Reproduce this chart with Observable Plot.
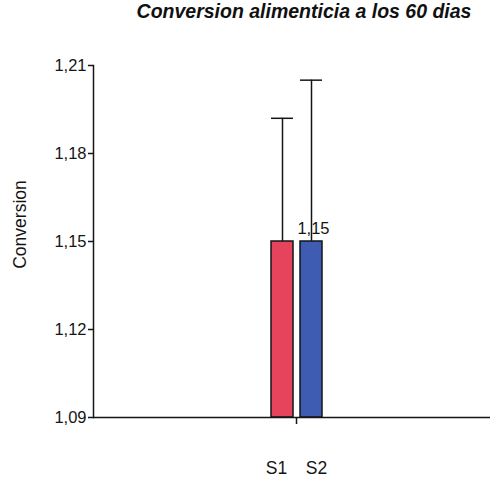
<!DOCTYPE html>
<html>
<head>
<meta charset="utf-8">
<script src="https://cdn.jsdelivr.net/npm/d3@7"></script>
<script src="https://cdn.jsdelivr.net/npm/@observablehq/plot@0.6"></script>
<style>
  body { margin: 0; background: #fff; width: 496px; }
  #title {
    height: 40px; line-height: 40px; padding-left: 112px; text-align: center;
    font: italic bold 19.5px "Liberation Sans", Arial, sans-serif;
    color: #111; white-space: nowrap;
  }
</style>
</head>
<body>
<div id="title">Conversion alimenticia a los 60 dias</div>
<div id="chart"></div>
<script>
// Feed conversion at 60 days, two groups: mean and upper error bound
const groups = ["S1", "S2"];
const means = [1.15, 1.15];
const upper = [1.192, 1.205];
const yTicks = [1.09, 1.12, 1.15, 1.18, 1.21];
const colors = ["#e6435d", "#3d5cb2"];
const labeledGroup = "S2";
const yTitle = "Conversion";

const data = groups.map((g, i) => ({group: g, mean: means[i], upper: upper[i]}));
const yMin = yTicks[0];
const fmt = v => v.toFixed(2).replace(".", ",");
const ink = "#151515";

// short tick on the category axis, centred under the pair of bars
function groupTick(index, scales, values, dims) {
  const x = scales.x;
  const bw = typeof x.bandwidth === "function" ? x.bandwidth() : (x.bandwidth || 0);
  const mid = (x(groups[0]) + x(groups[groups.length - 1]) + bw) / 2;
  const y0 = dims.height - dims.marginBottom;
  const g = d3.create("svg:g");
  g.append("line")
    .attr("x1", mid).attr("x2", mid)
    .attr("y1", y0).attr("y2", y0 + 7)
    .attr("stroke", ink).attr("stroke-width", 1.5);
  return g.node();
}

const chart = Plot.plot({
  width: 496,
  height: 440,
  marginTop: 25,
  marginBottom: 63,
  marginLeft: 93,
  marginRight: 6,
  style: {fontFamily: '"Liberation Sans", Arial, sans-serif', background: "#fff", color: ink},
  x: {type: "band", domain: groups, range: [270, 323], paddingInner: 0.23, paddingOuter: 0},
  y: {domain: [yMin, yTicks[yTicks.length - 1]]},
  color: {domain: groups, range: colors},
  marks: [
    Plot.ruleX(data, {x: "group", y1: "mean", y2: "upper", stroke: ink, strokeWidth: 1.5}),
    Plot.tickY(data, {x: "group", y: "upper", stroke: ink, strokeWidth: 1.5}),
    Plot.barY(data, {x: "group", y1: yMin, y2: "mean", fill: "group", stroke: ink, strokeWidth: 1.5}),
    Plot.text(data.filter(d => d.group === labeledGroup), {
      x: "group", y: "mean", text: d => fmt(d.mean),
      lineAnchor: "bottom", dy: -8, dx: 2, fontSize: 16.5, fill: ink
    }),
    Plot.ruleY([yMin], {stroke: ink, strokeWidth: 1.5}),
    Plot.frame({anchor: "left", stroke: ink, strokeWidth: 1.5}),
    Plot.axisY({ticks: yTicks, tickFormat: fmt, tickSize: 5, tickPadding: 2, fontSize: 16.5, label: null, strokeWidth: 1.5}),
    Plot.axisX([groups[0]], {tickSize: 0, tickPadding: 44, dx: -6, fontSize: 17.5, label: null}),
    Plot.axisX([groups[1]], {tickSize: 0, tickPadding: 44, dx: 5, fontSize: 17.5, label: null}),
    groupTick,
    Plot.text([yTitle], {
      frameAnchor: "left", textAnchor: "middle", lineAnchor: "middle",
      rotate: -90, dx: -73, dy: -17, fontSize: 17.5, fill: ink
    })
  ]
});

document.getElementById("chart").appendChild(chart);
</script>
</body>
</html>
